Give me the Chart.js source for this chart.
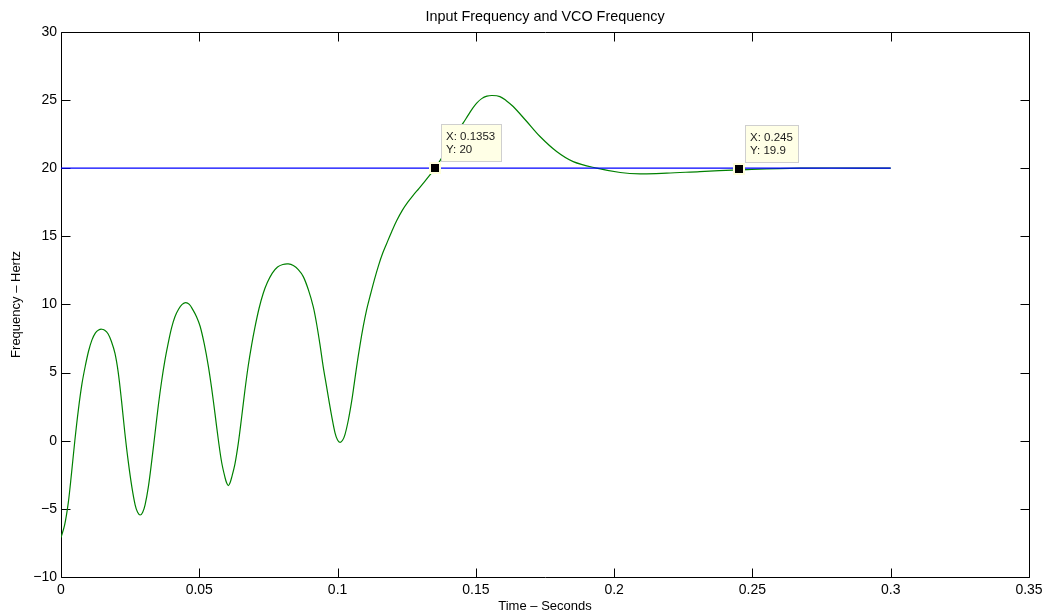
<!DOCTYPE html>
<html>
<head>
<meta charset="utf-8">
<script src="https://cdn.jsdelivr.net/npm/chart.js@4"></script>
<style>
  html, body { margin: 0; padding: 0; background: #ffffff; }
  canvas { display: block; }
</style>
</head>
<body>
<canvas id="c" width="1059" height="613"></canvas>
<script>
// ---- data ----
const vcoTime = [
  0, 0.0013, 0.0026, 0.0038, 0.005, 0.0063, 0.0076, 0.0088, 0.0100, 0.0112, 0.0124, 0.0136, 0.0147,
  0.0158, 0.0170, 0.0182, 0.0195, 0.0207, 0.0219, 0.0231, 0.0243, 0.0256, 0.0268, 0.0277, 0.0286,
  0.0295, 0.0304, 0.0316, 0.0328, 0.034, 0.0352, 0.0364, 0.0376, 0.0388, 0.04, 0.0412, 0.0425, 0.0438, 0.0451,
  0.0464, 0.0477, 0.049, 0.0503, 0.0518, 0.0533, 0.0545, 0.0557, 0.0569, 0.0581, 0.0593, 0.0599, 0.0605,
  0.0611, 0.0617, 0.0629, 0.0641, 0.0653, 0.0665, 0.0677, 0.0689, 0.0701, 0.0716, 0.0731, 0.0746, 0.0764,
  0.0783, 0.0802, 0.0822,
  0.084, 0.0858, 0.0876, 0.0894, 0.0912, 0.0924, 0.0936, 0.0948, 0.096, 0.097, 0.0979, 0.0991, 0.1, 0.1009,
  0.1018, 0.1027, 0.1039, 0.1051, 0.106, 0.1069, 0.1081, 0.1093, 0.1105, 0.1117, 0.1133, 0.1148, 0.1163,
  0.1178, 0.1196, 0.1214, 0.1234, 0.1254, 0.1274, 0.1294, 0.1314, 0.1334, 0.1353, 0.1375, 0.1395, 0.1415,
  0.1435, 0.1455, 0.1471, 0.1487, 0.1503, 0.1521, 0.154, 0.1559,
  0.1587, 0.161, 0.1635, 0.1684, 0.1732, 0.1792, 0.1852, 0.1937, 0.2022, 0.2094, 0.219, 0.231, 0.245,
  0.2672, 0.3];
const vcoFreq = [
  -7.1, -6.2, -4.6, -2.4, 0.0, 2.3, 4.2, 5.5, 6.6, 7.4, 7.9, 8.12, 8.18,
  8.1, 7.85, 7.3, 6.42, 5.0, 2.9, 0.55, -1.5, -3.37, -4.7, -5.25, -5.45,
  -5.26, -4.7, -3.37, -1.5, 0.55, 2.6, 4.4, 5.93, 7.2, 8.3, 9.1, 9.65, 10.0, 10.13,
  10.0, 9.6, 9.1, 8.4, 7.1, 5.44, 3.8, 1.95, 0.05, -1.6, -2.7, -3.1, -3.3,
  -3.1, -2.7, -1.7, -0.2, 1.7, 3.7, 5.5, 7.0, 8.3, 9.7, 10.8, 11.6, 12.3,
  12.75, 12.93, 12.97,
  12.85, 12.55, 12.04, 11.1, 9.84, 8.6, 7.1, 5.44, 4.0, 2.8, 1.77, 0.56, 0.05, -0.12,
  0.03, 0.47, 1.52, 2.9, 4.15, 5.44, 7.0, 8.4, 9.6, 10.57, 11.8, 12.85, 13.75,
  14.49, 15.35, 16.15, 16.9, 17.5, 18.02, 18.5, 18.99, 19.5, 20.0, 20.7, 21.4, 22.1,
  22.75, 23.34, 23.85, 24.35, 24.77, 25.1, 25.28, 25.33,
  25.25, 24.95, 24.52, 23.42, 22.32, 21.22, 20.48, 20.0, 19.68, 19.58, 19.63, 19.75, 19.87,
  20.0, 20.0];
const inputTime = [0, 0.3];
const inputFreq = [20, 20];
const tipX = [0.1353, 0.245];
const tipY = [20, 19.9];
const tipText = [["X: 0.1353", "Y: 20"], ["X: 0.245", "Y: 19.9"]];

const FONT = "'Liberation Sans', Arial, Helvetica, sans-serif";

const boxTicks = {
  id: 'boxTicks',
  beforeDatasetsDraw(chart) {
    const { ctx, chartArea: a, scales: { x, y } } = chart;
    ctx.save();
    ctx.strokeStyle = '#000';
    ctx.lineWidth = 1;
    const L = Math.round(a.left) + 0.5, R = Math.round(a.right) + 0.5;
    const T = Math.round(a.top) + 0.5, B = Math.round(a.bottom) + 0.5;
    ctx.beginPath();
    ctx.rect(L, T, R - L, B - T);
    const tl = 9;
    x.ticks.forEach(t => {
      const px = Math.round(x.getPixelForValue(t.value)) + 0.5;
      ctx.moveTo(px, B); ctx.lineTo(px, B - tl);
      ctx.moveTo(px, T); ctx.lineTo(px, T + tl);
    });
    y.ticks.forEach(t => {
      const py = Math.round(y.getPixelForValue(t.value)) + 0.5;
      ctx.moveTo(L, py); ctx.lineTo(L + tl, py);
      ctx.moveTo(R, py); ctx.lineTo(R - tl, py);
    });
    ctx.stroke();
    ctx.restore();
  }
};

const dataTips = {
  id: 'dataTips',
  afterDatasetsDraw(chart) {
    const { ctx, scales: { x, y } } = chart;
    ctx.save();
    ctx.font = '11.5px ' + FONT;
    tipX.forEach((tx, i) => {
      const mx = Math.round(x.getPixelForValue(tx));
      const my = Math.round(y.getPixelForValue(tipY[i]));
      const lines = tipText[i];
      const w = Math.ceil(Math.max(...lines.map(s => ctx.measureText(s).width))) + 11;
      const h = 38;
      const bx = mx + 6, by = my - 44;
      ctx.fillStyle = '#ffffe6';
      ctx.fillRect(bx, by, w, h);
      ctx.strokeStyle = '#cfcfcf';
      ctx.lineWidth = 1;
      ctx.strokeRect(bx + 0.5, by + 0.5, w - 1, h - 1);
      ctx.fillStyle = '#1a1a1a';
      ctx.textBaseline = 'middle';
      ctx.textAlign = 'left';
      ctx.fillText(lines[0], bx + 5, by + 13);
      ctx.fillText(lines[1], bx + 5, by + 26);
      // marker
      ctx.fillStyle = '#ffffdc';
      ctx.fillRect(mx - 6, my - 6, 12, 12);
      ctx.fillStyle = '#000';
      ctx.fillRect(mx - 4, my - 4, 8, 8);
    });
    ctx.restore();
  }
};

function tickFmt(v) {
  const r = Math.round(v * 10000) / 10000;
  return String(r).replace('-', '\u2212');
}

new Chart(document.getElementById('c'), {
  type: 'line',
  data: {
    datasets: [
      {
        label: 'Input Frequency',
        data: inputTime.map((t, i) => ({ x: t, y: inputFreq[i] })),
        borderColor: '#0000ff',
        borderWidth: 1.2,
        pointRadius: 0,
        fill: false
      },
      {
        label: 'VCO Frequency',
        data: vcoTime.map((t, i) => ({ x: t, y: vcoFreq[i] })),
        borderColor: '#008000',
        borderWidth: 1.2,
        pointRadius: 0,
        fill: false,
        tension: 0.35
      }
    ]
  },
  options: {
    responsive: false,
    animation: false,
    events: [],
    layout: { padding: { top: 0, right: 30, bottom: 0, left: 0 } },
    plugins: {
      legend: { display: false },
      tooltip: { enabled: false },
      title: {
        display: true,
        text: 'Input Frequency and VCO Frequency',
        fullSize: false,
        color: '#000',
        font: { family: FONT, size: 14.4, weight: 'normal', lineHeight: 1.1 },
        padding: { top: 9, bottom: 7 }
      }
    },
    scales: {
      x: {
        type: 'linear',
        min: 0, max: 0.35,
        grid: { display: false, drawTicks: false },
        border: { display: false },
        ticks: { stepSize: 0.05, color: '#000', padding: 5, maxRotation: 0, font: { family: FONT, size: 14 }, callback: tickFmt },
        title: { display: true, text: 'Time \u2013 Seconds', color: '#000', font: { family: FONT, size: 13, lineHeight: 1 }, padding: { top: 0, bottom: 0 } },
        afterFit(s) { s.height = 36; }
      },
      y: {
        min: -10, max: 30,
        grid: { display: false, drawTicks: false },
        border: { display: false },
        ticks: { stepSize: 5, color: '#000', padding: 4, font: { family: FONT, size: 14 }, callback: tickFmt },
        title: { display: true, text: 'Frequency \u2013 Hertz', color: '#000', font: { family: FONT, size: 13, lineHeight: 1 }, padding: { top: 10, bottom: 0 } },
        afterFit(s) { s.width = 61; }
      }
    }
  },
  plugins: [boxTicks, dataTips]
});
</script>
</body>
</html>
